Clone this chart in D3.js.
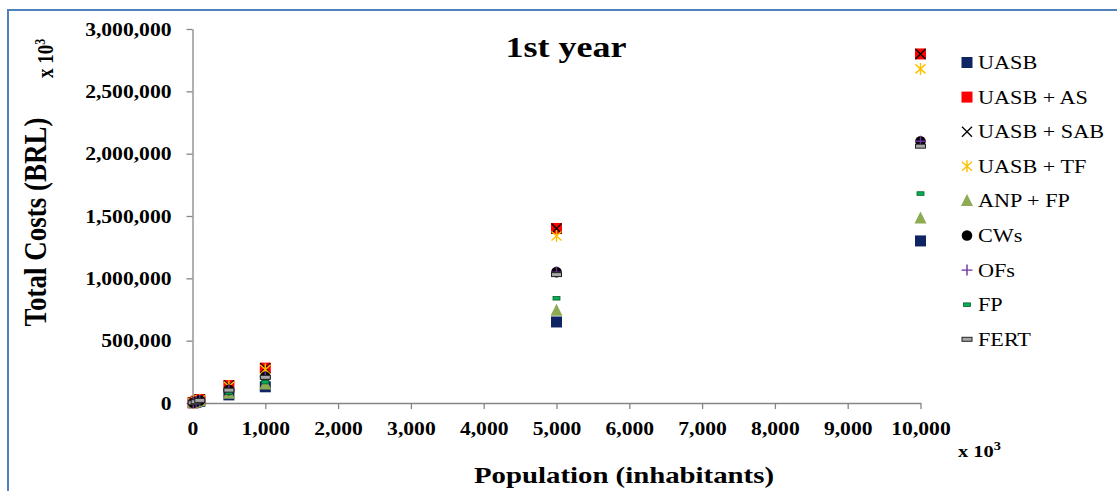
<!DOCTYPE html>
<html>
<head>
<meta charset="utf-8">
<script src="https://cdn.jsdelivr.net/npm/d3@7"></script>
<style>
  body { margin: 0; background: #fff; }
  svg { display: block; }
</style>
</head>
<body>
<svg id="chart" width="1117" height="491"></svg>
<script>
// Population served (thousands of inhabitants)
const populations = [10, 50, 100, 500, 1000, 5000, 10000];

// Total costs in the first year (thousand BRL) per treatment system
const uasb    = [1300, 6500, 13000, 65000, 130000, 650000, 1300000];
const uasbAS  = [2800, 14000, 28000, 140000, 280000, 1400000, 2800000];
const uasbSAB = [2800, 14000, 28000, 140000, 280000, 1400000, 2800000];
const uasbTF  = [2680, 13400, 26800, 134000, 268000, 1340000, 2680000];
const anpFP   = [1480, 7400, 14800, 74000, 148000, 740000, 1480000];
const cws     = [2100, 10500, 21000, 105000, 210000, 1050000, 2100000];
const ofs     = [2100, 10500, 21000, 105000, 210000, 1050000, 2100000];
const fp      = [1680, 8400, 16800, 84000, 168000, 840000, 1680000];
const fert    = [2060, 10300, 20600, 103000, 206000, 1030000, 2060000];

const seriesNames = ["UASB", "UASB + AS", "UASB + SAB", "UASB + TF", "ANP + FP", "CWs", "OFs", "FP", "FERT"];
const seriesValues = [uasb, uasbAS, uasbSAB, uasbTF, anpFP, cws, ofs, fp, fert];
const markerKinds = ["square", "redSquare", "x", "star", "triangle", "circle", "plus", "dashGreen", "dashGray"];

const yTicks = [0, 500000, 1000000, 1500000, 2000000, 2500000, 3000000];
const xTicks = [0, 1000, 2000, 3000, 4000, 5000, 6000, 7000, 8000, 9000, 10000];

const FONT = "'Liberation Serif', 'Times New Roman', serif";
const SX = 1.2; // horizontal widening of the lettering

const svg = d3.select("#chart");
const axisColor = "#868686";

// Outer chart frame
svg.append("rect")
  .attr("x", 8).attr("y", 10)
  .attr("width", 1200).attr("height", 600)
  .attr("fill", "none").attr("stroke", "#4f81bd").attr("stroke-width", 2);

const x = d3.scaleLinear().domain([0, 10000]).range([192.5, 920.5]);
const y = d3.scaleLinear().domain([0, 3000000]).range([403, 29]);

const fmt = d3.format(",");

// Y axis
const gy = svg.append("g").attr("transform", `translate(${x(0)},0)`)
  .call(d3.axisLeft(y).tickValues(yTicks).tickFormat(fmt).tickSize(6).tickSizeOuter(0));
gy.select(".domain").attr("stroke", axisColor).attr("stroke-width", 1.3);
gy.selectAll(".tick line").attr("stroke", axisColor).attr("stroke-width", 1.3);
gy.selectAll(".tick text")
  .style("font-family", FONT).style("font-size", "18px").style("font-weight", "bold")
  .attr("fill", "#000")
  .attr("x", -21 / SX).attr("dy", "0.34em")
  .attr("transform", `scale(${SX},1)`);

// X axis
const gx = svg.append("g").attr("transform", `translate(0,${y(0)})`)
  .call(d3.axisBottom(x).tickValues(xTicks).tickFormat(fmt).tickSize(6).tickSizeOuter(0));
gx.select(".domain").attr("stroke", axisColor).attr("stroke-width", 1.3);
gx.selectAll(".tick line").attr("stroke", axisColor).attr("stroke-width", 1.3);
gx.selectAll(".tick text")
  .style("font-family", FONT).style("font-size", "18px").style("font-weight", "bold")
  .attr("fill", "#000")
  .attr("x", 0).attr("y", 32).attr("dy", 0)
  .attr("transform", `scale(${SX},1)`);

// Marker drawing
function drawMarker(g, kind) {
  switch (kind) {
    case "square":
      g.append("rect").attr("x", -5.5).attr("y", -5.5).attr("width", 11).attr("height", 11)
        .attr("fill", "#0f2462");
      break;
    case "redSquare":
      g.append("rect").attr("x", -5.5).attr("y", -5.5).attr("width", 11).attr("height", 11)
        .attr("fill", "#ff0000");
      break;
    case "x":
      g.append("path").attr("d", "M-5,-5L5,5M5,-5L-5,5")
        .attr("stroke", "#000").attr("stroke-width", 1.3).attr("fill", "none");
      break;
    case "star":
      g.append("path").attr("d", "M0,-6L0,6M-5,-4.5L5,4.5M5,-4.5L-5,4.5")
        .attr("stroke", "#ffc000").attr("stroke-width", 1.4).attr("fill", "none");
      break;
    case "triangle":
      g.append("path").attr("d", "M0,-7L6,5L-6,5Z").attr("fill", "#8eab54");
      break;
    case "circle":
      g.append("circle").attr("r", 5.3).attr("fill", "#000");
      break;
    case "plus":
      g.append("path").attr("d", "M0,-5.5L0,5.5M-5.5,0L5.5,0")
        .attr("stroke", "#7030a0").attr("stroke-width", 1.4).attr("fill", "none");
      break;
    case "dashGreen":
      g.append("rect").attr("x", -3.5).attr("y", -1.8).attr("width", 7).attr("height", 3.6)
        .attr("fill", "#00b050").attr("stroke", "#0b5e2e").attr("stroke-width", 0.8);
      break;
    case "dashGray":
      g.append("rect").attr("x", -5).attr("y", -2).attr("width", 10).attr("height", 4)
        .attr("fill", "#a6a6a6").attr("stroke", "#222").attr("stroke-width", 1);
      break;
  }
}

// Data points
seriesValues.forEach((vals, i) => {
  const g = svg.append("g").attr("class", "series");
  g.selectAll("g.pt")
    .data(populations.map((p, j) => ({ p, v: vals[j] })))
    .join("g").attr("class", "pt")
    .attr("transform", d => `translate(${x(d.p)},${y(d.v)})`)
    .each(function() { drawMarker(d3.select(this), markerKinds[i]); });
});

// Legend
const legend = svg.append("g");
seriesNames.forEach((name, i) => {
  const cy = 62.5 + i * 34.6;
  const mg = legend.append("g").attr("transform", `translate(967,${cy})`);
  drawMarker(mg, markerKinds[i]);
  legend.append("text")
    .attr("transform", `translate(978,${cy + 6.5}) scale(${SX},1)`)
    .style("font-family", FONT).style("font-size", "18.5px")
    .text(name);
});

// Title
svg.append("text")
  .attr("transform", `translate(566,57) scale(${SX},1)`)
  .attr("text-anchor", "middle")
  .style("font-family", FONT).style("font-size", "30px").style("font-weight", "bold")
  .text("1st year");

// Axis titles
svg.append("text")
  .attr("transform", `translate(46,222) scale(${SX},1) rotate(-90)`)
  .attr("text-anchor", "middle")
  .style("font-family", FONT).style("font-size", "27px").style("font-weight", "bold")
  .text("Total Costs (BRL)");

svg.append("text")
  .attr("transform", `translate(624,483) scale(${SX},1)`)
  .attr("text-anchor", "middle")
  .style("font-family", FONT).style("font-size", "24px").style("font-weight", "bold")
  .text("Population (inhabitants)");

// Unit multipliers
const yUnit = svg.append("text")
  .attr("transform", `translate(53,78) scale(${SX},1) rotate(-90)`)
  .style("font-family", FONT).style("font-size", "19px").style("font-weight", "bold");
yUnit.append("tspan").text("x 10");
yUnit.append("tspan").style("font-size", "12px").attr("dy", -7).text("3");

const xUnit = svg.append("text")
  .attr("transform", `translate(958,457) scale(${SX},1)`)
  .style("font-family", FONT).style("font-size", "17px").style("font-weight", "bold");
xUnit.append("tspan").text("x 10");
xUnit.append("tspan").style("font-size", "12px").attr("dy", -7).text("3");
</script>
</body>
</html>
